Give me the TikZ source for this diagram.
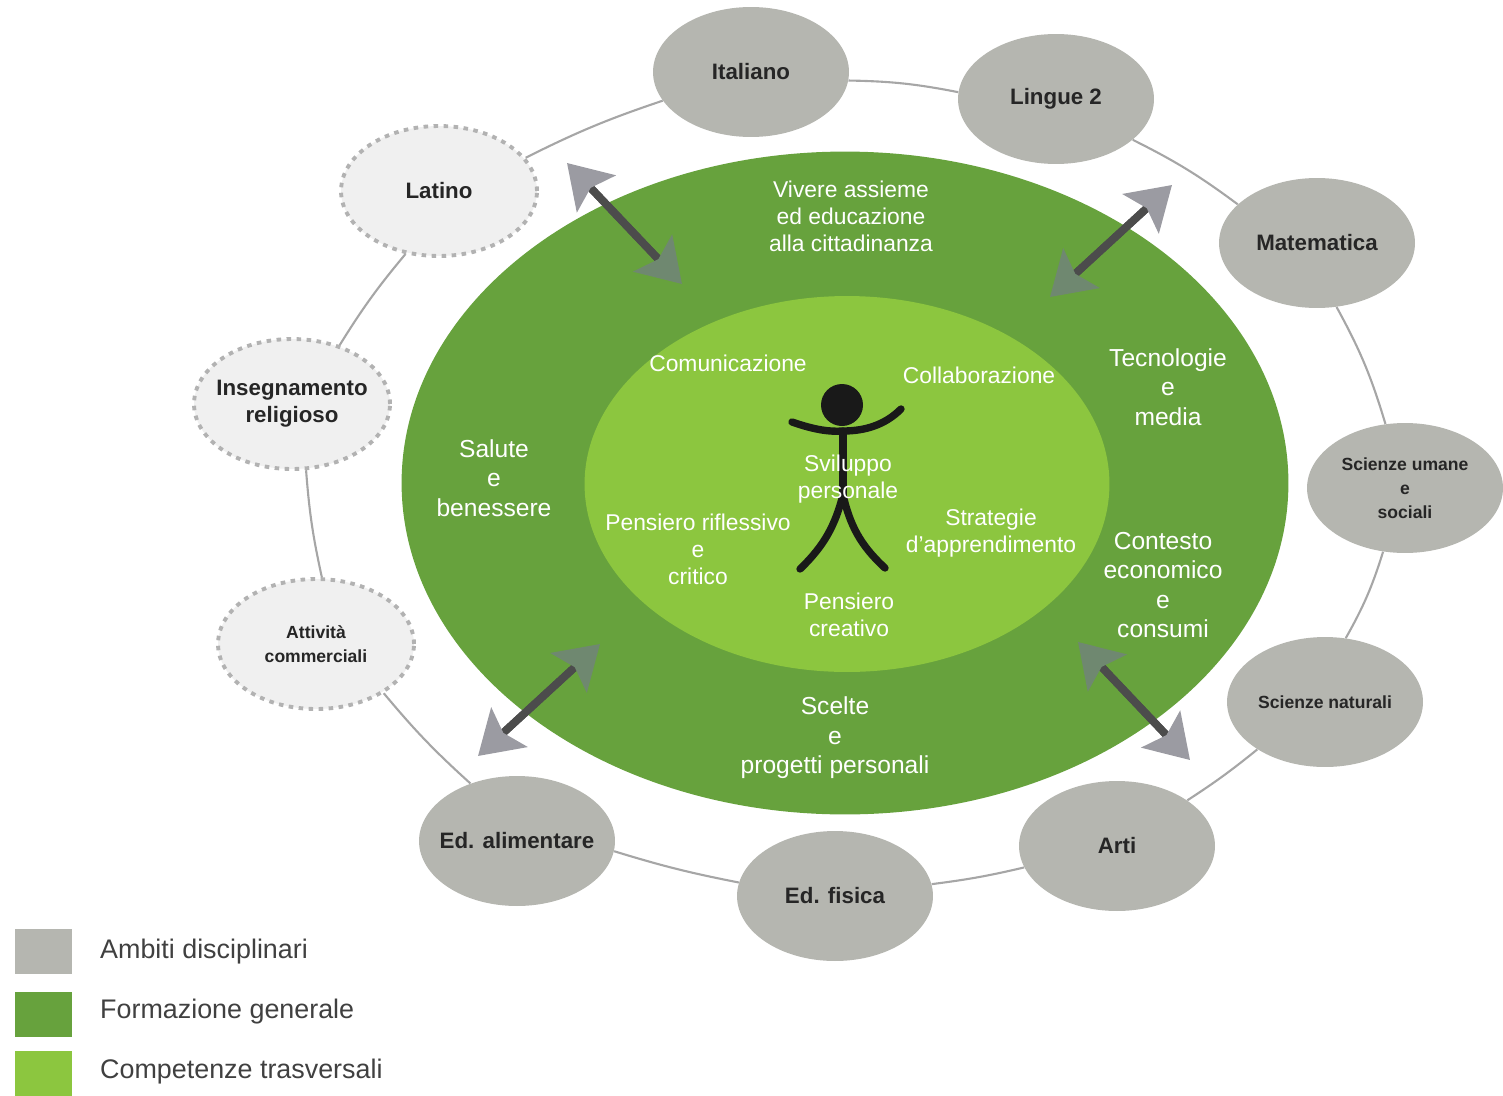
\documentclass[tikz,border=0pt]{standalone}
\usepackage{fontspec}
\setmainfont{Liberation Sans}
\usetikzlibrary{arrows.meta,shapes.geometric}
\definecolor{disciplina}{HTML}{B5B6B0}
\definecolor{formazione}{HTML}{67A23D}
\definecolor{competenze}{HTML}{8CC63F}
\definecolor{ringgrey}{HTML}{A6A6A6}
\definecolor{tiplight}{HTML}{9B9BA2}
\definecolor{tipdark}{HTML}{6F8870}
\tikzset{
	subject/.style={ellipse,fill=disciplina,minimum width=3.92cm,minimum height=2.6cm,inner xsep=-8pt,inner ysep=0pt,align=center,font=\fontsize{12.7}{15.5}\selectfont\bfseries,text=black!85},
	optional/.style={subject,fill=black!6,draw=black!30,line width=2.2pt,dash pattern=on 2.6pt off 3.1pt},
	smallsubject/.style={font=\fontsize{10}{13.5}\selectfont\bfseries},
	whitetext/.style={text=white,align=center,font=\fontsize{13}{15.3}\selectfont},
	bigwhite/.style={text=white,align=center,font=\fontsize{14}{16.8}\selectfont},
	ringline/.style={draw=ringgrey,line width=1.2pt},
	shaftline/.style={draw=black!70,line width=4.4pt,shorten <=16pt,shorten >=16pt},
	dblarrow/.style={draw=black!70,line width=4.4pt,{Stealth[length=24pt,width=30pt,inset=4.5pt,color=tiplight]}-{Stealth[length=24pt,width=30pt,inset=4.5pt,color=tipdark]}},
	legendbox/.style={rectangle,minimum width=1.14cm,minimum height=0.9cm,inner sep=0pt},
	legendtext/.style={anchor=west,text=black!75,font=\fontsize{15.3}{18}\selectfont},
	limb/.style={draw=black!90,line width=4.2pt,line cap=round}
}

\begin{document}
\begin{tikzpicture}[x=0.02cm,y=-0.02cm]
	%%%%% START %%%%%
	\useasboundingbox (0,0) rectangle (1503,1095);

	\node[ellipse,fill=formazione,minimum width=17.74cm,minimum height=13.26cm,inner sep=0pt] (generale) at (845,483) {};
	\node[ellipse,fill=competenze,minimum width=10.5cm,minimum height=7.52cm,inner sep=0pt] (trasversali) at (847,484) {};

	\node[subject] (italiano) at (751,72) {Italiano};
	\node[subject] (lingue) at (1056,99) {Lingue 2};
	\node[subject] (matematica) at (1317,243) {Matematica};
	\node[subject,smallsubject] (umane) at (1405,488) {Scienze umane\\e\\sociali};
	\node[subject,smallsubject] (naturali) at (1325,702) {Scienze naturali};
	\node[subject] (arti) at (1117,846) {Arti};
	\node[subject] (fisica) at (835,896) {Ed. fisica};
	\node[subject] (alimentare) at (517,841) {Ed. alimentare};
	\node[optional,smallsubject] (attivita) at (316,644) {Attività\\commerciali};
	\node[optional] (religioso) at (292,404) {Insegnamento\\religioso};
	\node[optional] (latino) at (439,191) {Latino};

	\draw[ringline] (italiano.-5) to[bend left=5] (lingue.176);
	\draw[ringline] (lingue.-28) to[bend left=5] (matematica.154);
	\draw[ringline] (matematica.-73) to[bend left=6] (umane.107);
	\draw[ringline] (umane.-109) to[bend left=6] (naturali.72);
	\draw[ringline] (naturali.-145) to[bend left=3] (arti.33);
	\draw[ringline] (arti.-167) to[bend left=3] (fisica.7);
	\draw[ringline] (fisica.172) to[bend left=3] (alimentare.-6);
	\draw[ringline] (alimentare.129) to[bend left=4] (attivita.-36);
	\draw[ringline] (attivita.85) to[bend left=4] (religioso.-78);
	\draw[ringline] (religioso.51) to[bend left=4] (latino.-118);
	\draw[ringline] (latino.21) to[bend left=4] (italiano.198);

	\node[whitetext] (vivere) at (851,216) {Vivere assieme\\ed educazione\\alla cittadinanza};
	\node[bigwhite] (tecnologie) at (1168,387) {Tecnologie\\e\\media};
	\node[bigwhite] (contesto) at (1163,585) {Contesto\\economico\\e\\consumi};
	\node[bigwhite] (scelte) at (835,738) {Scelte\\e\\progetti personali};
	\node[bigwhite] (salute) at (494,478) {Salute\\e\\benessere};

	%% figure in the middle
	\coordinate (neck) at (843,431);
	\coordinate (hip) at (843,495);
	\fill[black!90] (842,405) circle (21);
	\draw[limb] (792,422) .. controls (815,430) and (830,432) .. (neck) .. controls (865,431) and (885,425) .. (901,409);
	\draw[limb] (neck) -- (hip);
	\draw[limb] (hip) .. controls (835,525) and (825,545) .. (800,569);
	\draw[limb] (hip) .. controls (850,525) and (860,545) .. (885,568);

	\node[whitetext] (comunicazione) at (728,363) {Comunicazione};
	\node[whitetext] (collaborazione) at (979,375) {Collaborazione};
	\node[whitetext] (sviluppo) at (848,479) {Sviluppo\\personale};
	\node[whitetext] (riflessivo) at (698,549) {Pensiero riflessivo\\e\\critico};
	\node[whitetext] (strategie) at (991,533) {Strategie\\d'apprendimento};
	\node[whitetext] (creativo) at (849,615) {Pensiero\\creativo};

	%% double arrows
	\coordinate (a1) at (567,163);
	\coordinate (a2) at (682,284);
	\coordinate (b1) at (1172,185);
	\coordinate (b2) at (1050,297);
	\coordinate (c1) at (478,756);
	\coordinate (c2) at (600,644);
	\coordinate (d1) at (1190,760);
	\coordinate (d2) at (1078,642);
	\draw[shaftline] (a1) -- (a2);
	\draw[shaftline] (b1) -- (b2);
	\draw[shaftline] (c1) -- (c2);
	\draw[shaftline] (d1) -- (d2);
	\draw[dblarrow] (a1) -- (a2);
	\draw[dblarrow] (b1) -- (b2);
	\draw[dblarrow] (c1) -- (c2);
	\draw[dblarrow] (d1) -- (d2);

	%% legend
	\node[legendbox,fill=disciplina] (ambiti) at (43.5,951.5) {};
	\node[legendbox,fill=formazione] (formgen) at (43.5,1014.5) {};
	\node[legendbox,fill=competenze] (comptrasv) at (43.5,1073.5) {};
	\node[legendtext] at (94,952) {Ambiti disciplinari};
	\node[legendtext] at (94,1012) {Formazione generale};
	\node[legendtext] at (94,1072) {Competenze trasversali};
	%%%%% END %%%%%
\end{tikzpicture}
\end{document}
